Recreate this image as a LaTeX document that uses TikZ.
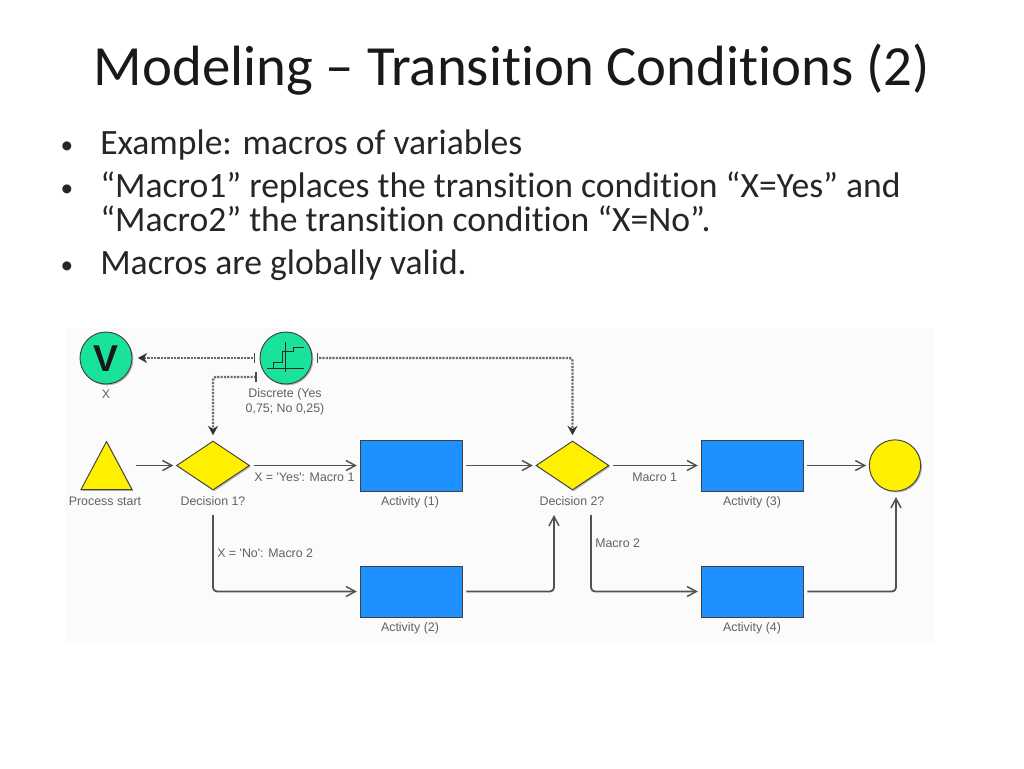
\documentclass[tikz,border=0pt]{standalone}
\usepackage{fontspec}
\setmainfont{Carlito}[Ligatures=NoCommon]
\newfontfamily\lblfont{Liberation Sans}
\usetikzlibrary{arrows.meta,shapes.geometric,calc,shadows}
\definecolor{tealc}{HTML}{19E39B}
\definecolor{yelc}{HTML}{FFF000}
\definecolor{bluec}{HTML}{1E90FF}
\tikzset{
  x=0.75pt,y=-0.75pt,
  titletext/.style={anchor=base,inner sep=0,font=\fontsize{42.6}{44}\selectfont,text=black!90},
  bodytext/.style={anchor=base west,inner sep=0,font=\fontsize{26.7}{26.7}\selectfont,text=black!85},
  bullettext/.style={anchor=base,inner sep=0,font=\fontsize{19}{19}\selectfont,text=black!85},
  lbl/.style={inner sep=0,align=center,font=\lblfont\fontsize{9.3}{11.2}\selectfont,text=black!62},
  shapeline/.style={draw=black!75,line width=0.7pt},
  shade/.style={drop shadow={shadow xshift=1pt,shadow yshift=-1pt,fill=black!40,opacity=.7}},
  act/.style={shapeline,fill=bluec,rectangle,minimum width=76.5pt,minimum height=38.25pt,inner sep=0},
  gate/.style={shapeline,fill=yelc,diamond,aspect=1.49,minimum width=54.75pt,minimum height=36.75pt,inner sep=0},
  var/.style={shapeline,fill=tealc,circle,minimum size=39pt,inner sep=0},
  flow/.style={draw=black!68,line width=1.35pt,rounded corners=3pt,-{Straight Barb[length=7pt,width=7.5pt,line width=1.1pt]}},
  link/.style={draw=black!58,line width=1.7pt,dash pattern=on 1.6pt off 0.9pt,rounded corners=2pt,-{Stealth[length=7pt,width=7.5pt,black!80]}},
  tick/.style={draw=black!70,line width=1.2pt},
}
\begin{document}
\begin{tikzpicture}
\useasboundingbox (0,0) rectangle (1024,768);
\fill[white] (0,0) rectangle (1024,768);
\fill[black!1.5] (65,328) rectangle (933,643);

\node[titletext] (title) at (512,85) {Modeling – Transition Conditions (2)};
\node[bullettext] (b1) at (67,153) {•};
\node[bodytext] (t1) at (100,154) {Example: macros of variables};
\node[bullettext] (b2) at (67,196) {•};
\node[bodytext] (t2) at (100,197) {“Macro1” replaces the transition condition “X=Yes” and};
\node[bodytext] (t2b) at (100,231) {“Macro2” the transition condition “X=No”.};
\node[bullettext] (b3) at (67,273) {•};
\node[bodytext] (t3) at (100,274) {Macros are globally valid.};

% shapes
\node[var,shade] (x) at (106,358) {};
\node[inner sep=0,font=\lblfont\bfseries\fontsize{28}{28}\selectfont,text=black!90] (vv) at (106,358.5) {V};
\node[var,shade] (disc) at (286,358) {};
\draw[black!85,line width=0.6pt] (267,368) -- (304,368) (285,342) -- (285,372);
\draw[black!85,line width=0.7pt] (273,368) -- (273,362) -- (282,362) -- (282,351) -- (293,351) -- (293,347) -- (304,347);

\node[shapeline,fill=yelc,isosceles triangle,isosceles triangle apex angle=55,shape border rotate=90,isosceles triangle stretches,minimum width=38.25pt,minimum height=36pt,inner sep=0,shade,anchor=lower side] (start) at (106.5,490) {};
\node[gate,shade] (d1) at (213,465.5) {};
\node[gate,shade] (d2) at (572.5,465.5) {};
\node[act,shade] (a1) at (411,465.5) {};
\node[act,shade] (a2) at (411,591.5) {};
\node[act,shade] (a3) at (752,465.5) {};
\node[act,shade] (a4) at (752,591.5) {};
\node[shapeline,fill=yelc,circle,minimum size=38.5pt,inner sep=0,shade] (end) at (895,465.5) {};

% labels
\node[lbl] (lx) at (106,394) {X};
\node[lbl] (ldisc) at (285,402) {Discrete (Yes\\0,75; No 0,25)};
\node[lbl] (lstart) at (105,501) {Process start};
\node[lbl] (ld1) at (213,501) {Decision 1?};
\node[lbl] (la1) at (410,502) {Activity (1)};
\node[lbl] (la2) at (410,628) {Activity (2)};
\node[lbl] (ld2) at (572,501) {Decision 2?};
\node[lbl] (la3) at (752,502) {Activity (3)};
\node[lbl] (la4) at (752,628) {Activity (4)};
\node[lbl,anchor=west] (cy) at (254,477) {X = 'Yes': Macro 1};
\node[lbl,anchor=west] (cn) at (217,553) {X = 'No': Macro 2};
\node[lbl,anchor=west] (c1) at (632,477) {Macro 1};
\node[lbl,anchor=west] (c2) at (595,543) {Macro 2};

% connector ends that stop short of the text under a shape
\coordinate (d1out) at (213,515);
\coordinate (d2in) at (554,515);
\coordinate (d2out) at (591,515);
\coordinate (endin) at (896,497);
\coordinate (dl1) at (256,377);
\coordinate (startout) at (131,465.5);

% connectors
\draw[flow,shorten <=3.5pt,shorten >=2pt] (startout) -- (d1.west);
\draw[flow,shorten <=3pt,shorten >=2pt] (d1.east) -- (a1.west);
\draw[flow,shorten <=3pt,shorten >=2pt] (a1.east) -- (d2.west);
\draw[flow,shorten <=3pt,shorten >=2pt] (d2.east) -- (a3.west);
\draw[flow,shorten <=3pt,shorten >=2pt] (a3.east) -- (end.west);
\draw[flow,shorten >=2pt] (d1out) |- (a2.west);
\draw[flow,shorten <=3pt] (a2.east) -| (d2in);
\draw[flow,shorten >=2pt] (d2out) |- (a4.west);
\draw[flow,shorten <=3pt] (a4.east) -| (endin);

% dashed links
\draw[link,shorten <=5pt,shorten >=4pt] (disc.west) -- (x.east);
\draw[link,shorten <=5pt,shorten >=4pt] (disc.east) -| (d2.north);
\draw[link,shorten >=4pt] (dl1) -| (d1.north);
\draw[tick] ($(disc.west)+(-5,-5)$) -- ($(disc.west)+(-5,5)$);
\draw[tick] ($(disc.east)+(5,-5)$) -- ($(disc.east)+(5,5)$);
\draw[tick] ($(dl1)+(0,-5)$) -- ($(dl1)+(0,5)$);
\end{tikzpicture}
\end{document}
